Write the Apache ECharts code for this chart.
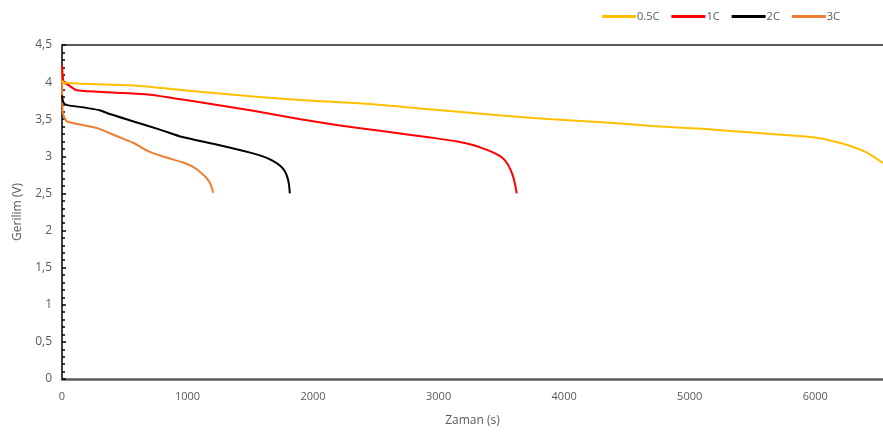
<!DOCTYPE html>
<html>
<head>
<meta charset="utf-8">
<script src="https://cdn.jsdelivr.net/npm/echarts@6/dist/echarts.min.js"></script>
<style>html,body{margin:0;padding:0;background:#fff}#c{width:883px;height:436px}</style>
</head>
<body>
<div id="c"></div>
<script>
var seriesNames = ['0.5C', '1C', '2C', '3C'];
var xTicks = [0, 1000, 2000, 3000, 4000, 5000, 6000];
var yTicks = [0, 0.5, 1, 1.5, 2, 2.5, 3, 3.5, 4, 4.5];

var t05 = [0, 20, 300, 600, 800, 1100, 1500, 1900, 2500, 2950, 3500, 3900, 4300, 4700, 5100, 5500, 5900, 6050, 6150, 6280, 6400, 6480, 6540];
var v05 = [4.02, 3.99, 3.97, 3.95, 3.92, 3.87, 3.81, 3.76, 3.70, 3.63, 3.55, 3.50, 3.46, 3.41, 3.37, 3.32, 3.27, 3.24, 3.20, 3.14, 3.06, 2.98, 2.91];

var t1 = [0, 5, 15, 60, 120, 400, 700, 900, 1100, 1500, 1900, 2200, 2550, 2950, 3150, 3280, 3380, 3450, 3500, 3540, 3570, 3595, 3612, 3622];
var v1 = [4.23, 4.10, 4.00, 3.95, 3.89, 3.86, 3.83, 3.78, 3.73, 3.62, 3.50, 3.42, 3.34, 3.25, 3.20, 3.15, 3.09, 3.04, 2.99, 2.92, 2.83, 2.72, 2.60, 2.50];

var t2 = [0, 10, 40, 170, 300, 380, 570, 780, 960, 1230, 1500, 1600, 1680, 1740, 1775, 1795, 1808, 1815];
var v2 = [3.82, 3.73, 3.69, 3.66, 3.62, 3.57, 3.47, 3.36, 3.26, 3.16, 3.05, 3.00, 2.94, 2.87, 2.80, 2.72, 2.62, 2.50];

var t3 = [0, 5, 20, 40, 170, 280, 440, 570, 700, 840, 960, 1040, 1100, 1145, 1175, 1195, 1203];
var v3 = [4.20, 3.60, 3.52, 3.47, 3.42, 3.38, 3.27, 3.18, 3.06, 2.98, 2.92, 2.86, 2.79, 2.72, 2.65, 2.57, 2.51];

var colors = ['#FFC000', '#FF0000', '#000000', '#ED7D31'];

function pairs(t, v) { return t.map(function (x, i) { return [x, v[i]]; }); }
var allData = [pairs(t05, v05), pairs(t1, v1), pairs(t2, v2), pairs(t3, v3)];

var chart = echarts.init(document.getElementById('c'), null, { renderer: 'canvas' });
var txt = '#595959';
var font = 'Open Sans';
chart.setOption({
  animation: false,
  backgroundColor: '#fff',
  color: colors,
  textStyle: { fontFamily: font },
  legend: {
    left: 597, top: 6,
    itemWidth: 34, itemHeight: 3, itemGap: 12,
    icon: 'rect',
    textStyle: { color: txt, fontSize: 11, fontFamily: font, padding: [0, 0, 0, -4] },
    data: seriesNames
  },
  grid: { left: 62, top: 45, right: 0, bottom: 57, containLabel: false },
  xAxis: [{
    type: 'value', min: 0, max: 6540, interval: 1000,
    name: 'Zaman (s)', nameLocation: 'middle', nameGap: 36,
    nameTextStyle: { color: txt, fontSize: 12, fontFamily: font },
    axisLine: { show: true, lineStyle: { color: '#595959', width: 2.5 } },
    axisTick: { show: false },
    splitLine: { show: false },
    axisLabel: { color: txt, fontSize: 11, margin: 12, showMaxLabel: false,
      formatter: function (v) { return xTicks.indexOf(v) >= 0 ? String(v) : ''; } }
  }, {
    type: 'value', min: 0, max: 6540, position: 'top',
    axisLine: { show: true, onZero: false, lineStyle: { color: '#595959', width: 2 } },
    axisTick: { show: false }, axisLabel: { show: false }, splitLine: { show: false }
  }],
  yAxis: {
    type: 'value', min: 0, max: 4.5, interval: 0.5,
    name: 'Gerilim (V)', nameLocation: 'middle', nameGap: 38,
    nameTextStyle: { color: txt, fontSize: 12, fontFamily: font },
    axisLine: { show: true, lineStyle: { color: '#000', width: 1.5 } },
    axisTick: { show: true, inside: true, length: 4, lineStyle: { color: '#000', width: 1.5 } },
    minorTick: { show: true, splitNumber: 5, length: 3, lineStyle: { color: '#000', width: 1.5 } },
    splitLine: { show: false },
    axisLabel: { color: txt, fontSize: 12, margin: 10,
      formatter: function (v) { return yTicks.indexOf(v) >= 0 ? String(v).replace('.', ',') : ''; } }
  },
  series: seriesNames.map(function (n, i) {
    return {
      name: n, type: 'line', data: allData[i], showSymbol: false, symbol: 'none',
      smooth: 0.25, lineStyle: { width: 2, color: colors[i] }, itemStyle: { color: colors[i] },
      z: 10 - i
    };
  })
});
</script>
</body>
</html>
